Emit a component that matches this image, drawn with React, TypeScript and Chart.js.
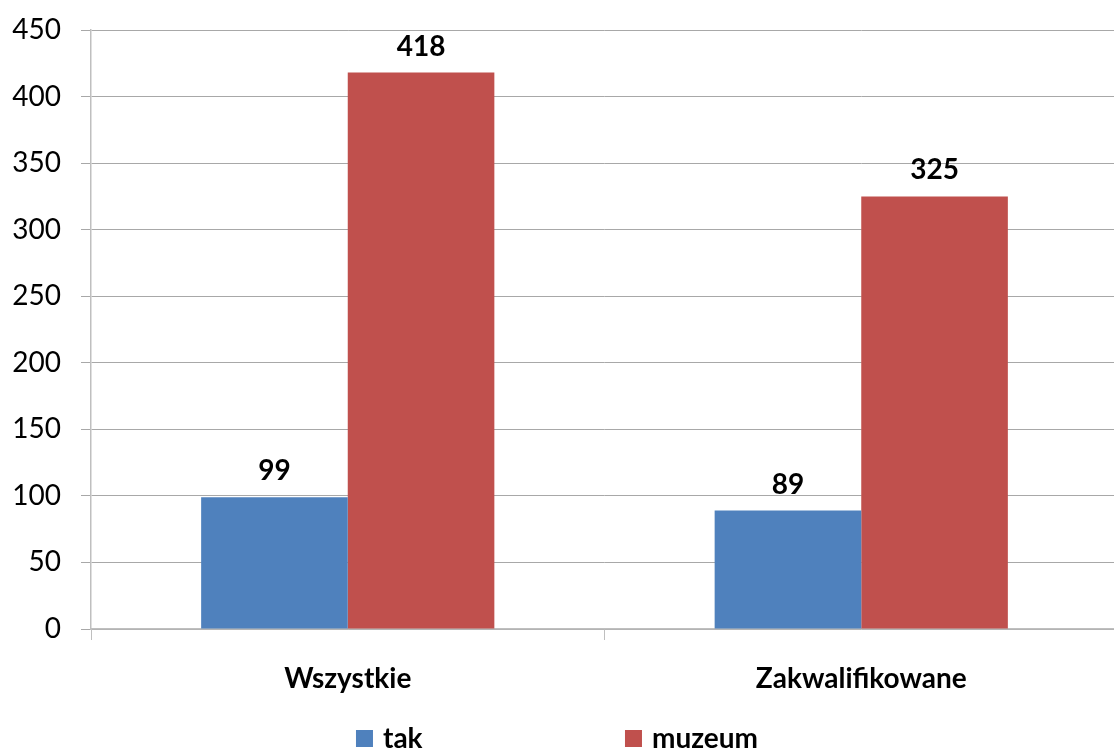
import React, { useEffect, useRef } from "react";
import { Chart, registerables } from "chart.js";

Chart.register(...registerables);

const categories = ["Wszystkie", "Zakwalifikowane"];
const seriesNames = ["tak", "muzeum"];
const takValues = [99, 89];
const muzeumValues = [418, 325];
const yMin = 0;
const yMax = 450;
const yStep = 50;
const seriesColors = ["#4F81BD", "#C0504D"];

const VIEW_W = 1114;
const CANVAS_W = 1118;
const CANVAS_H = 751;
const FONT = "Lato, 'Open Sans', sans-serif";

const valueLabelPlugin = {
  id: "valueLabels",
  afterDatasetsDraw(chart: any) {
    const ctx = chart.ctx;
    ctx.save();
    ctx.font = `bold 28px ${FONT}`;
    ctx.fillStyle = "#000";
    ctx.textAlign = "center";
    ctx.textBaseline = "alphabetic";
    chart.data.datasets.forEach((ds: any, i: number) => {
      const meta = chart.getDatasetMeta(i);
      meta.data.forEach((el: any, j: number) => {
        ctx.fillText(String(ds.data[j]), el.x, el.y - 17);
      });
    });
    ctx.restore();
  },
};

const legendPlugin = {
  id: "customLegend",
  afterDraw(chart: any) {
    const ctx = chart.ctx;
    ctx.save();
    ctx.font = `bold 28px ${FONT}`;
    ctx.textBaseline = "alphabetic";
    ctx.textAlign = "left";
    const box = 17;
    const gap = 10;
    const slot = 269;
    const baseline = 748;
    const datasets = chart.data.datasets;
    const lastW = box + gap + ctx.measureText(datasets[datasets.length - 1].label).width;
    const total = slot * (datasets.length - 1) + lastW;
    let x = VIEW_W / 2 - total / 2;
    datasets.forEach((ds: any) => {
      ctx.fillStyle = ds.backgroundColor;
      ctx.fillRect(x, baseline - 18, box, box);
      ctx.fillStyle = "#000";
      ctx.fillText(ds.label, x + box + gap, baseline);
      x += slot;
    });
    ctx.restore();
  },
};

export default function App() {
  const ref = useRef<HTMLCanvasElement | null>(null);

  useEffect(() => {
    if (!ref.current) return;
    const chart = new Chart(ref.current, {
      type: "bar",
      data: {
        labels: categories,
        datasets: [
          {
            label: seriesNames[0],
            data: takValues,
            backgroundColor: seriesColors[0],
            categoryPercentage: 0.571,
            barPercentage: 1,
          },
          {
            label: seriesNames[1],
            data: muzeumValues,
            backgroundColor: seriesColors[1],
            categoryPercentage: 0.571,
            barPercentage: 1,
          },
        ],
      },
      options: {
        animation: false,
        responsive: false,
        maintainAspectRatio: false,
        layout: { padding: { top: 30, left: 0, right: 0, bottom: 0 } },
        plugins: {
          legend: { display: false },
          tooltip: { enabled: false },
        },
        scales: {
          x: {
            offset: true,
            grid: {
              offset: true,
              drawOnChartArea: false,
              drawTicks: true,
              tickLength: 11,
              color: "#bfbfbf",
            },
            border: { color: "#bfbfbf", width: 1.5 },
            ticks: {
              font: { family: FONT, size: 28, weight: "bold" },
              color: "#000",
              padding: 22,
              maxRotation: 0,
            },
            afterFit(scale: any) {
              scale.height = 122;
              scale.paddingLeft = 0;
              scale.paddingRight = 0;
            },
          },
          y: {
            min: yMin,
            max: yMax,
            ticks: {
              stepSize: yStep,
              font: { family: FONT, size: 28 },
              color: "#000",
              padding: 20,
            },
            grid: {
              color: "#a8a8a8",
              tickLength: 10,
              tickColor: "#a8a8a8",
            },
            border: { color: "#bfbfbf", width: 1.5 },
            afterFit(scale: any) {
              scale.width = 91;
              scale.paddingTop = 0;
              scale.paddingBottom = 0;
            },
          },
        },
      },
      plugins: [valueLabelPlugin, legendPlugin],
    } as any);
    return () => chart.destroy();
  }, []);

  return (
    <div
      style={{
        position: "fixed",
        left: 0,
        top: 0,
        width: VIEW_W,
        height: CANVAS_H,
        overflow: "hidden",
        background: "#fff",
      }}
    >
      <canvas
        ref={ref}
        width={CANVAS_W}
        height={CANVAS_H}
        style={{ width: CANVAS_W, height: CANVAS_H, display: "block" }}
      />
    </div>
  );
}
